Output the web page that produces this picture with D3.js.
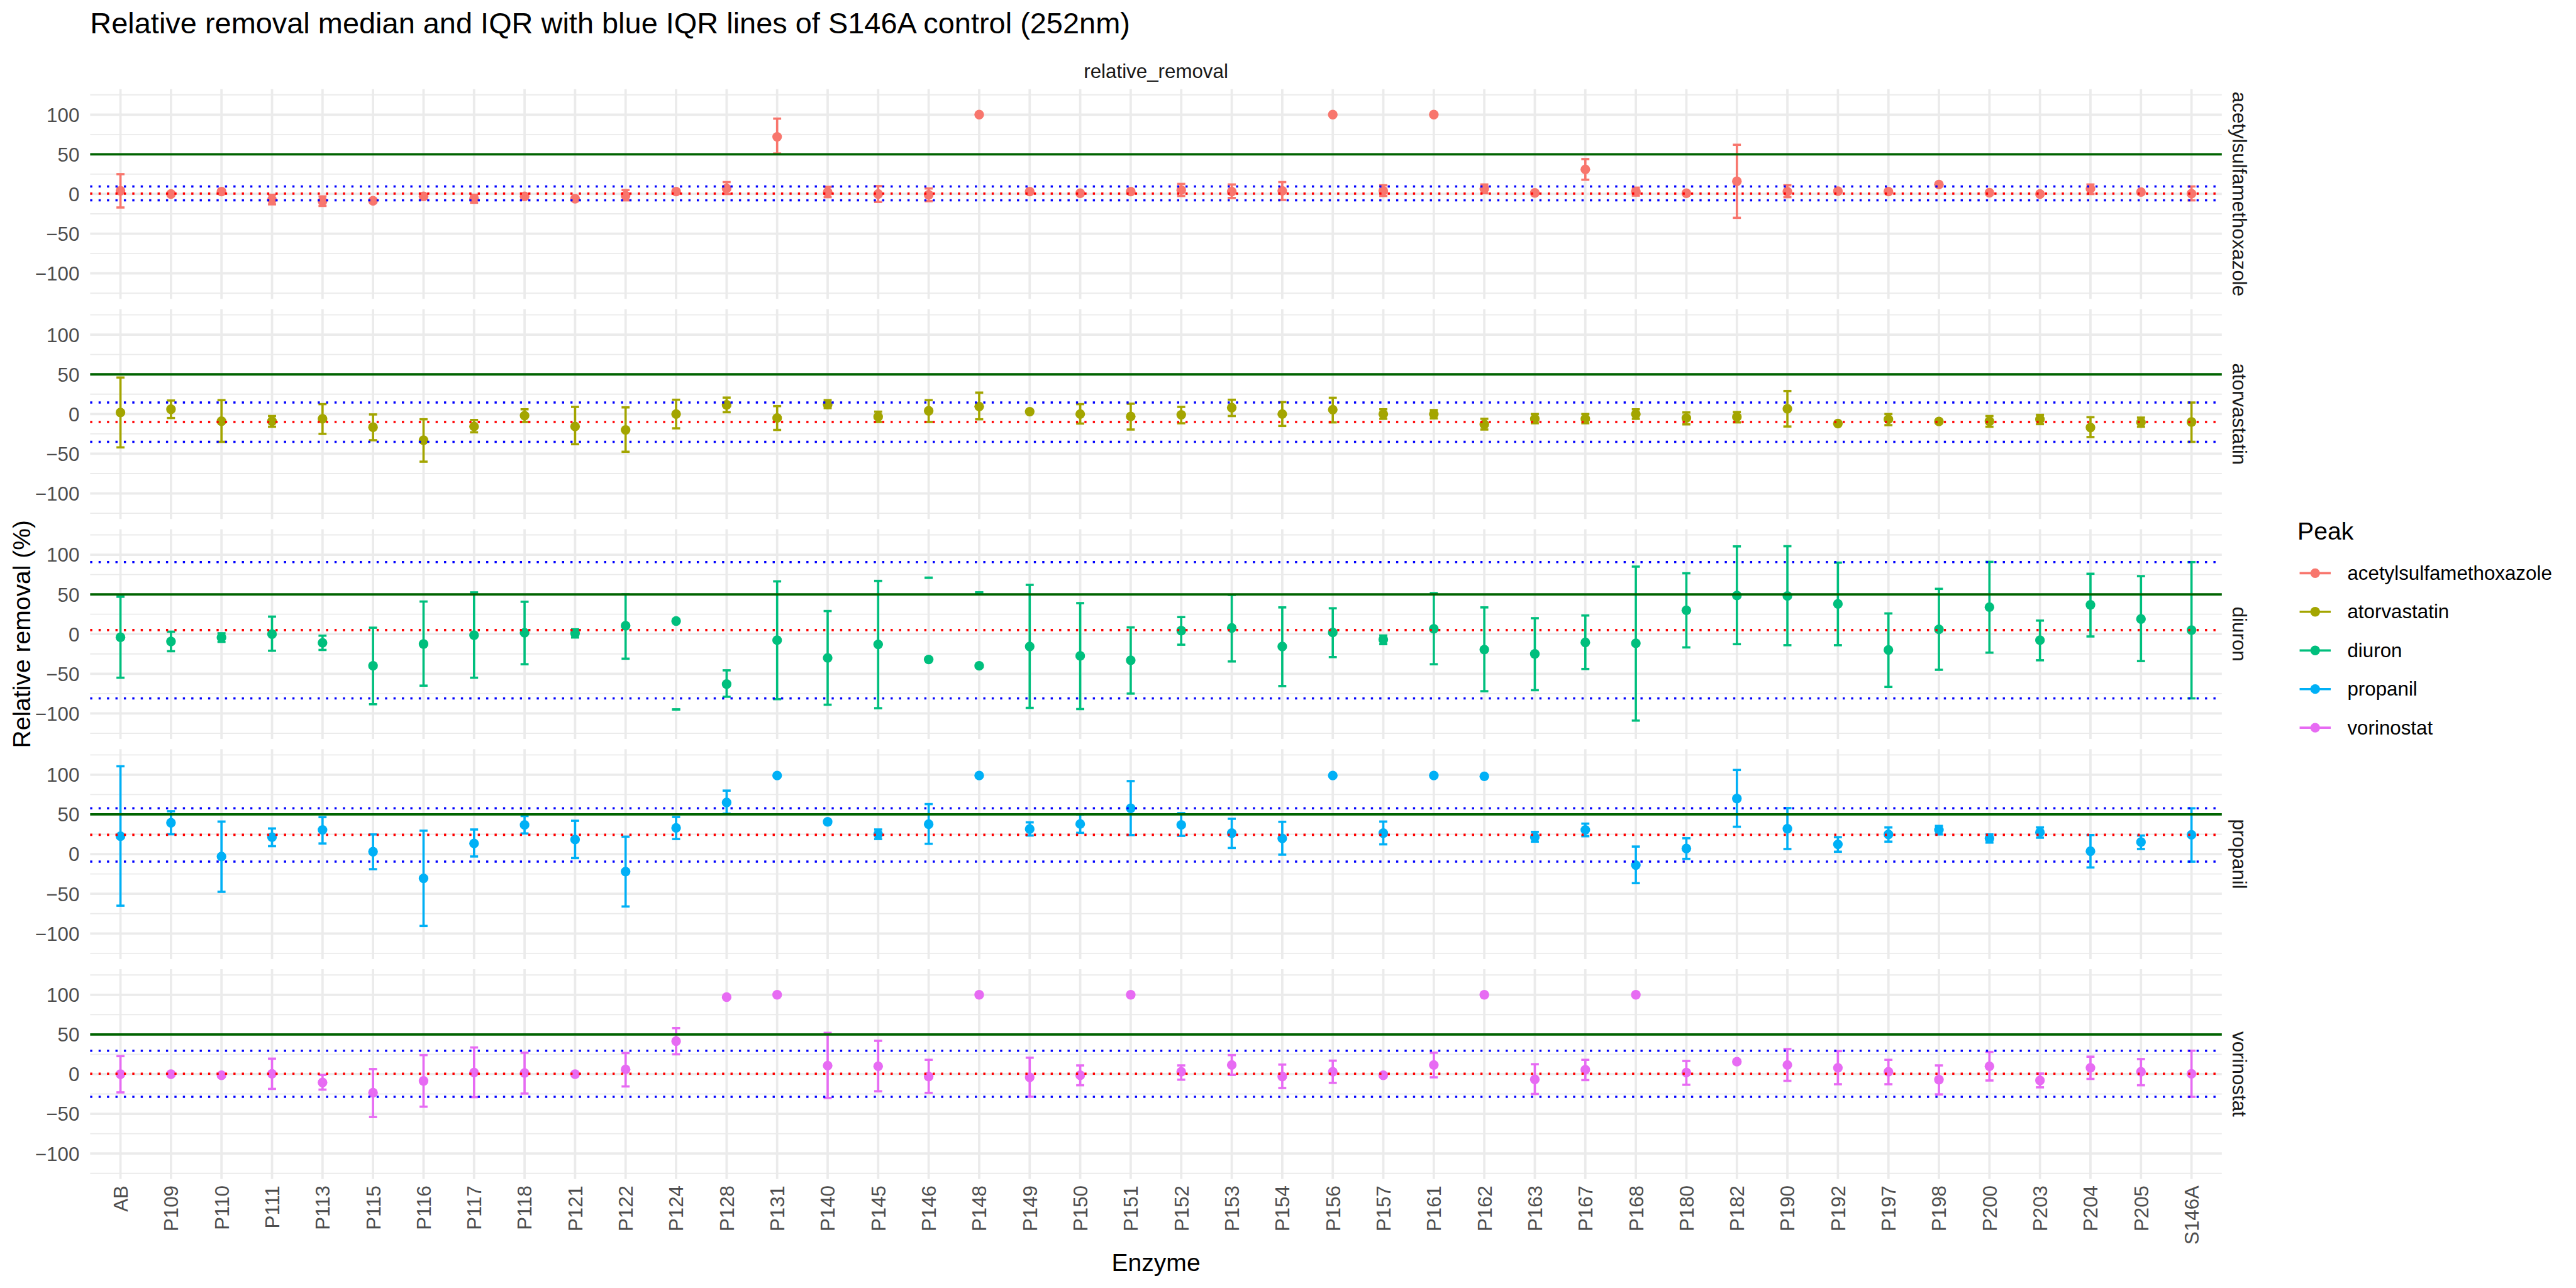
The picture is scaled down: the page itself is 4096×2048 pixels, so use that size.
<!DOCTYPE html>
<html><head><meta charset="utf-8">
<script src="https://cdn.jsdelivr.net/npm/d3@7"></script>
<style>html,body{margin:0;padding:0;background:#fff;}svg{display:block;}</style>
</head><body>
<script>
// ---------- data ----------
const categories = ["AB","P109","P110","P111","P113","P115","P116","P117","P118","P121","P122","P124","P128","P131","P140","P145","P146","P148","P149","P150","P151","P152","P153","P154","P156","P157","P161","P162","P163","P167","P168","P180","P182","P190","P192","P197","P198","P200","P203","P204","P205","S146A"];
const peaks = ["acetylsulfamethoxazole","atorvastatin","diuron","propanil","vorinostat"];
const peakColors = ["#F8766D","#A3A500","#00BF7D","#00B0F6","#E76BF3"];
const controlEnzyme = "S146A";
const removalThreshold = 50;
const yTicks = [-100,-50,0,50,100];
const yMinorTicks = [-125,-75,-25,25,75,125];

const medAcetyl = [4,0,3,-7,-9,-8.5,-3,-5.6,-3,-6,-2,3,7,72,2.5,0,-1,100,3,1,3,5,3,4,100,4,100,6.6,1.4,31,3,1,16,3,3.6,3,12,1.6,0,6.6,2.5,0.5];
const lowAcetyl = [-17,-2,1,-13,-15,-10.5,-5,-11,-5,-8,-8,1,0,51,-4,-10,-9,100,1,-1,1,-2.5,-5,-7.5,100,-2.5,100,1,-0.6,18,-2,-1,-30,-4,1.6,1,10,-0.4,-2,0,0.5,-8];
const highAcetyl = [25,2,5,-1,-3,-6.5,-1,-1,-1,-4,5,5,15,95,9,10,7,100,5,3,5,12.7,12,15,100,11,100,12,3.4,44,8,3,62,11,5.6,5,14,3.6,2,12,4.5,9.5];

const medAtorva = [2,6,-9,-9,-6,-16.6,-33,-15.7,-2,-15.7,-20,0,11.6,-5,12,-3.4,4,9.5,3,0,-3,-1,8,0,5.5,0,0,-13,-6,-6,0,-5,-3.6,6.6,-12,-6.6,-9.3,-9,-6.6,-17,-10.5,-10];
const lowAtorva = [-42,-5,-35,-16,-25,-33,-60,-23,-10,-38,-47.5,-18,2.3,-20,7.5,-10,-10,-6.6,1,-12,-19.5,-11.6,-2.5,-15,-10.5,-6,-5.5,-19.5,-11.6,-11.6,-6,-13,-10.5,-15.7,-14,-14,-11,-16,-12.7,-29,-16,-35];
const highAtorva = [46,17,17.5,-2.5,12.5,-0.5,-6.6,-7.5,6,9,8.4,18,20.7,10,17.5,3,17.5,27,5,12.5,13,9,18,15,20.5,6,5,-6,0,0,6,2,2.5,29,-10,0,-7.5,-2.5,-1,-4,-4.5,14.5];

const medDiuron = [-4,-9.3,-4.3,0,-11,-40,-12.5,-1.4,1.6,1,10.5,16.4,-63,-7.7,-30,-13,-32,-40,-15.7,-27.5,-33,4.3,7.7,-15.7,2,-7,6.6,-19.5,-25,-10.5,-11.6,30,48.6,48,38,-20,6,34,-7.7,36.8,19,5];
const lowDiuron = [-55,-21.6,-9.8,-21,-20,-88.4,-65,-55,-38,-4.3,-31,-95,-79,-82,-89,-93.4,71,52.5,-93,-94.5,-75,-13.4,-34.5,-65.5,-29,-12.7,-38,-72,-70.7,-44,-109,-16.8,-12.7,-14,-14,-66.6,-45,-23.4,-33,-3,-34,-81];
const highDiuron = [47,3,1,22,-2,8,41,52.5,40.7,6,50,-95,-45.7,66.4,29,67,71,52.5,62,39,8.4,21.4,49.3,33.6,32.5,-1.8,51.6,33.6,20,23.4,85,76.6,110.5,110.7,90,26,57,91,17,76,73,90.7];

const medPropanil = [22.5,39.5,-3,21.4,30.5,3,-30.5,13.4,36.8,18.4,-22,33,65,99,40.7,25,37.7,99,31.6,38,57.7,36.8,26.4,19.8,99,26.4,99,98,21.4,30.5,-13.9,7,70,32,12.3,24.8,30.5,19.8,27.5,3.6,15.2,24.3];
const lowPropanil = [-65,25,-47.5,10,13.4,-19,-90.5,-3,26,-5,-66,19,51,99,38.7,19,13,99,23.4,26.8,24,23,7.7,-0.7,99,12.3,99,98,15.7,22.5,-36.6,-6,34.5,6.4,3,15.7,24.8,14.5,20.7,-16.8,6.4,-9.5];
const highPropanil = [110.7,54,41,32.3,46.6,24.8,29.5,31,48,42,22,46.8,80,99,42.7,31,63,99,40,50,92,51.6,44.5,40.7,99,41,99,98,28,38.4,9.5,20,106,58,21.4,33.6,35.5,24.8,33.6,24,23.4,57.7];

const medVorino = [0,0,-1.4,0.5,-10.5,-23.4,-8.6,2,1.4,0,6,41.6,97,100,10.7,10,-3,100,-4,-1.4,100,3,11.6,-3,3,-1.4,11.6,100,-6.6,5.5,100,2,15.7,11.6,8,3,-7,10,-8,8,3,0.5];
const lowVorino = [-23,-2,-3.4,-18.6,-19.5,-54,-41,-29,-24.5,-2,-15.5,25,97,100,-30,-21.6,-23.6,100,-28.4,-14,100,-7,-1,-17.5,-11,-3.4,-4,100,-25,-7.5,100,-13.4,13.7,-8.4,-12.7,-12.7,-25.5,-8,-16.6,-6,-14,-28.6];
const highVorino = [22.7,2,0.6,19.5,-1,6.4,24,33.6,27,2,26.6,58,97,100,52,42,18,100,20.7,11,100,11,24,12,17,0.6,27,100,12.5,18,100,16.6,17.7,31.6,29,18,11,28,0.7,22,19,29.5];

// ---------- assemble ----------
const seriesTable = [
  {med: medAcetyl, low: lowAcetyl, high: highAcetyl},
  {med: medAtorva, low: lowAtorva, high: highAtorva},
  {med: medDiuron, low: lowDiuron, high: highDiuron},
  {med: medPropanil, low: lowPropanil, high: highPropanil},
  {med: medVorino, low: lowVorino, high: highVorino}
].map((s, i) => ({
  peak: peaks[i], color: peakColors[i],
  rows: categories.map((c, j) => ({cat: c, med: s.med[j], low: s.low[j], high: s.high[j]}))
}));

// ---------- layout (reference units 4800x2400) ----------
const W = 4800, H = 2400;
const left = 168, right = 4140;
const top0 = 166, panelH = 391, pitch = 410;
const FS_AXIS = 36.7, FS_TITLE = 55, FS_ATITLE = 45.8;
const FONT = "'Liberation Sans', Arial, Helvetica, sans-serif";

const svg = d3.select("body").append("svg")
  .attr("width", 4096).attr("height", 2048)
  .attr("viewBox", `0 0 ${W} ${H}`)
  .style("font-family", FONT);
svg.append("rect").attr("width", W).attr("height", H).attr("fill", "#fff");

const x = d3.scalePoint().domain(categories).range([left, right]).padding(0.6);
const capHalf = x.step() * 0.08;

// title
svg.append("text").attr("x", left).attr("y", 62).attr("font-size", FS_TITLE).attr("fill", "#000")
  .text("Relative removal median and IQR with blue IQR lines of S146A control (252nm)");
// top strip
svg.append("text").attr("x", (left + right) / 2).attr("y", 145).attr("text-anchor", "middle")
  .attr("font-size", FS_AXIS).attr("fill", "#1A1A1A").text("relative_removal");

seriesTable.forEach((s, pi) => {
  const top = top0 + pi * pitch;
  const y = d3.scaleLinear().domain([-132.2, 132.2]).range([top + panelH, top]);
  const g = svg.append("g");

  // grid
  g.selectAll(".ymin").data(yMinorTicks).join("line")
    .attr("x1", left).attr("x2", right).attr("y1", d => y(d)).attr("y2", d => y(d))
    .attr("stroke", "#EBEBEB").attr("stroke-width", 2.2);
  g.selectAll(".ymaj").data(yTicks).join("line")
    .attr("x1", left).attr("x2", right).attr("y1", d => y(d)).attr("y2", d => y(d))
    .attr("stroke", "#EBEBEB").attr("stroke-width", 4.4);
  g.selectAll(".xmaj").data(categories).join("line")
    .attr("x1", d => x(d)).attr("x2", d => x(d)).attr("y1", top).attr("y2", top + panelH)
    .attr("stroke", "#EBEBEB").attr("stroke-width", 4.4);

  // y axis labels
  const yAxis = d3.axisLeft(y).tickValues(yTicks).tickSize(0).tickPadding(0);
  const ax = svg.append("g").attr("transform", `translate(148,0)`).call(yAxis);
  ax.select(".domain").remove();
  ax.selectAll("text").attr("font-size", FS_AXIS).attr("fill", "#4D4D4D")
    .attr("font-family", FONT).attr("dy", "0.35em").attr("x", 0);

  const rows = s.rows.filter(r => r.med != null);
  // error bars
  const eb = g.selectAll(".eb").data(rows).join("g").attr("stroke", s.color).attr("stroke-width", 4.2);
  eb.append("line").attr("x1", d => x(d.cat)).attr("x2", d => x(d.cat))
    .attr("y1", d => y(d.low)).attr("y2", d => y(d.high));
  eb.append("line").attr("x1", d => x(d.cat) - capHalf).attr("x2", d => x(d.cat) + capHalf)
    .attr("y1", d => y(d.low)).attr("y2", d => y(d.low));
  eb.append("line").attr("x1", d => x(d.cat) - capHalf).attr("x2", d => x(d.cat) + capHalf)
    .attr("y1", d => y(d.high)).attr("y2", d => y(d.high));
  // points
  g.selectAll(".pt").data(rows).join("circle")
    .attr("cx", d => x(d.cat)).attr("cy", d => y(d.med)).attr("r", 9).attr("fill", s.color);

  // reference lines
  const ctrl = s.rows.find(r => r.cat === controlEnzyme);
  g.append("line").attr("x1", left).attr("x2", right)
    .attr("y1", y(removalThreshold)).attr("y2", y(removalThreshold))
    .attr("stroke", "#006400").attr("stroke-width", 4.4);
  g.append("line").attr("x1", left).attr("x2", right)
    .attr("y1", y(ctrl.med)).attr("y2", y(ctrl.med))
    .attr("stroke", "#FF0000").attr("stroke-width", 4.2).attr("stroke-dasharray", "4 11.7");
  [ctrl.low, ctrl.high].forEach(v => {
    g.append("line").attr("x1", left).attr("x2", right)
      .attr("y1", y(v)).attr("y2", y(v))
      .attr("stroke", "#0000FF").attr("stroke-width", 4.2).attr("stroke-dasharray", "4 11.7");
  });

  // right strip label
  svg.append("text").attr("transform", `translate(4172,${top + panelH / 2}) rotate(90)`)
    .attr("text-anchor", "middle").attr("dominant-baseline", "central")
    .attr("font-size", FS_AXIS).attr("fill", "#1A1A1A").text(s.peak);
});

// x axis labels
const bottom = top0 + 4 * pitch + panelH;
const xAxis = d3.axisBottom(x).tickSize(0).tickPadding(0);
const xg = svg.append("g").attr("transform", `translate(0,${bottom})`).call(xAxis);
xg.select(".domain").remove();
xg.selectAll("text").attr("font-size", FS_AXIS).attr("fill", "#4D4D4D").attr("font-family", FONT)
  .attr("transform", "translate(0,12) rotate(-90)").attr("text-anchor", "end")
  .attr("x", 0).attr("y", 0).attr("dy", "0.35em");

// axis titles
svg.append("text").attr("x", (left + right) / 2).attr("y", 2368).attr("text-anchor", "middle")
  .attr("font-size", FS_ATITLE).attr("fill", "#000").text("Enzyme");
svg.append("text").attr("transform", `translate(56,${(top0 + bottom) / 2}) rotate(-90)`)
  .attr("text-anchor", "middle").attr("font-size", FS_ATITLE).attr("fill", "#000")
  .text("Relative removal (%)");

// legend
const lg = svg.append("g");
lg.append("text").attr("x", 4281).attr("y", 1006).attr("font-size", FS_ATITLE).attr("fill", "#000").text("Peak");
peaks.forEach((p, i) => {
  const cy = 1068 + i * 72;
  lg.append("line").attr("x1", 4285).attr("x2", 4343).attr("y1", cy).attr("y2", cy)
    .attr("stroke", peakColors[i]).attr("stroke-width", 4.2);
  lg.append("circle").attr("cx", 4314).attr("cy", cy).attr("r", 9).attr("fill", peakColors[i]);
  lg.append("text").attr("x", 4374).attr("y", cy).attr("dominant-baseline", "central")
    .attr("font-size", FS_AXIS).attr("fill", "#000").text(p);
});
</script>
</body></html>
